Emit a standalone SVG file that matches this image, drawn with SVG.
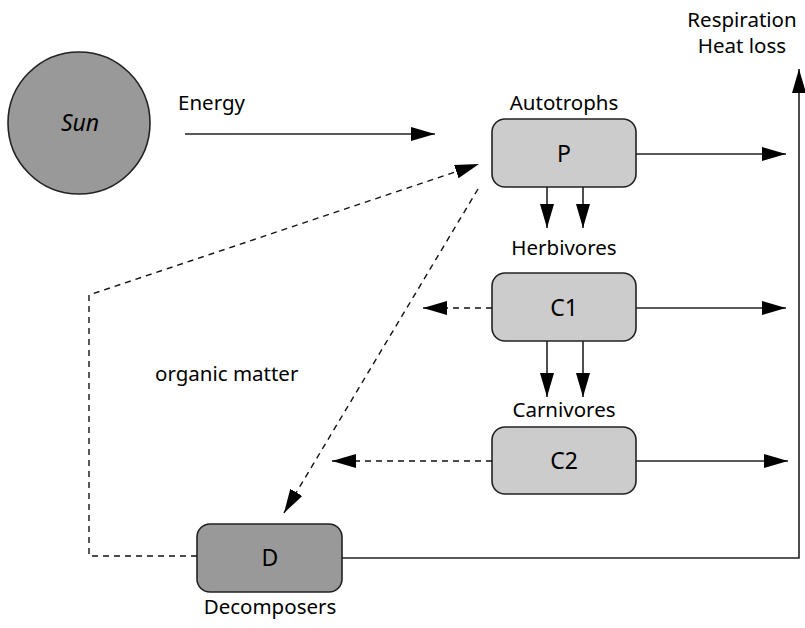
<svg xmlns="http://www.w3.org/2000/svg" width="805" height="628" viewBox="0 0 805 628">
  <style>
    text { font-family: "Noto Sans", "Open Sans", sans-serif; font-size: 20.5px; fill: #000; }
    .mid { text-anchor: middle; }
    .node { font-size: 23px; }
    .box { fill: #cccccc; stroke: #222; stroke-width: 1.6; }
    .dbox { fill: #999999; stroke: #222; stroke-width: 1.6; }
    .solid { fill: none; stroke: #222; stroke-width: 1.6; }
    .dash { fill: none; stroke: #111; stroke-width: 1.4; stroke-dasharray: 6 5; }
  </style>
  <defs>
    <marker id="head" viewBox="0 0 24 14" refX="24" refY="7" markerWidth="24" markerHeight="14" markerUnits="userSpaceOnUse" orient="auto">
      <path d="M0,0 L24,7 L0,14 Z" fill="#000"/>
    </marker>
  </defs>

  <!-- Sun -->
  <g id="sun">
    <circle cx="79" cy="123" r="71" fill="#999999" stroke="#222" stroke-width="1.6"/>
    <text x="80" y="131" class="mid node" font-style="italic">Sun</text>
  </g>

  <!-- free labels -->
  <g id="labels">
    <text x="178" y="110">Energy</text>
    <text x="155" y="381">organic matter</text>
    <text x="742" y="27" class="mid">Respiration</text>
    <text x="742" y="53" class="mid">Heat loss</text>
  </g>

  <!-- trophic levels -->
  <g id="node-P">
    <text x="564" y="110" class="mid">Autotrophs</text>
    <rect class="box" x="492" y="119" width="144" height="68" rx="13"/>
    <text x="564" y="162" class="mid node">P</text>
  </g>
  <g id="node-C1">
    <text x="564" y="255" class="mid">Herbivores</text>
    <rect class="box" x="492" y="273" width="144" height="68" rx="13"/>
    <text x="564" y="316" class="mid node">C1</text>
  </g>
  <g id="node-C2">
    <text x="564" y="417" class="mid">Carnivores</text>
    <rect class="box" x="492" y="427" width="144" height="67" rx="13"/>
    <text x="564" y="469" class="mid node">C2</text>
  </g>
  <g id="node-D">
    <rect class="dbox" x="197" y="524" width="145" height="68" rx="13"/>
    <text x="270" y="566" class="mid node">D</text>
    <text x="270" y="614" class="mid">Decomposers</text>
  </g>

  <!-- connectors -->
  <g id="connectors">
    <!-- energy input -->
    <line class="solid" x1="185" y1="134" x2="435" y2="134" marker-end="url(#head)"/>
    <!-- respiration losses -->
    <line class="solid" x1="636" y1="154" x2="786" y2="154" marker-end="url(#head)"/>
    <line class="solid" x1="636" y1="308" x2="786" y2="308" marker-end="url(#head)"/>
    <line class="solid" x1="636" y1="461" x2="788" y2="461" marker-end="url(#head)"/>
    <path class="solid" d="M342,558 H799 V69" marker-end="url(#head)"/>
    <!-- feeding links -->
    <line class="solid" x1="547" y1="187" x2="547" y2="228" marker-end="url(#head)"/>
    <line class="solid" x1="583" y1="187" x2="583" y2="228" marker-end="url(#head)"/>
    <line class="solid" x1="547" y1="341" x2="547" y2="397" marker-end="url(#head)"/>
    <line class="solid" x1="583" y1="341" x2="583" y2="397" marker-end="url(#head)"/>
    <!-- dead organic matter -->
    <line class="dash" x1="492" y1="308" x2="423" y2="308" marker-end="url(#head)"/>
    <line class="dash" x1="492" y1="461" x2="332" y2="461" marker-end="url(#head)"/>
    <line class="dash" x1="478" y1="189" x2="284" y2="513" marker-end="url(#head)"/>
    <path class="dash" d="M197,556 H89 V295 L479,164" marker-end="url(#head)"/>
  </g>
</svg>
